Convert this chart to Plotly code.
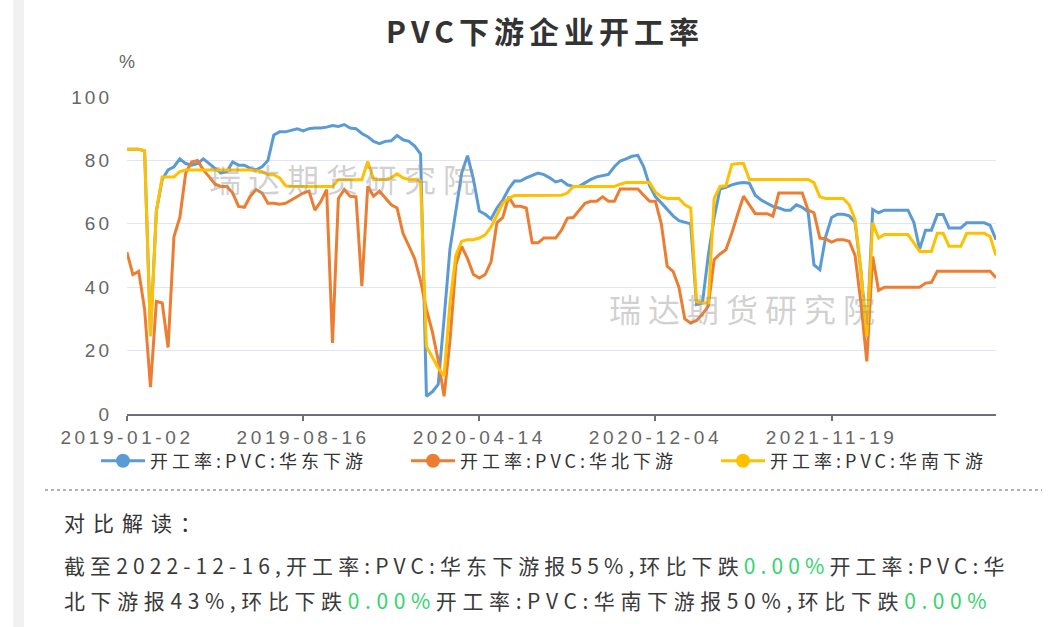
import numpy as np
import pandas as pd
import plotly.graph_objects as go

# ---------------- data ----------------
tick_dates = ["2019-01-02", "2019-08-16", "2020-04-14", "2020-12-04", "2021-11-19"]
last_date = "2022-12-16"
anchor_idx = [0, 30, 60, 90, 120, 148]

east = [83.5, 83.5, 83.5, 83, 25, 64, 74, 77, 78, 80.5,
        79, 78.5, 79, 80.5, 79, 77.5, 76, 76.5, 79.5, 78.5,
        78.5, 77.5, 77, 78, 80, 88, 89, 89, 89.5, 90,
        89.3, 90, 90.2, 90.2, 90.5, 91, 90.7, 91.3, 90.2, 90,
        88.5, 87.5, 86, 85.3, 86, 86.2, 87.9, 86.5, 86, 84.5,
        82, 5.6, 7, 9.3, 30, 52, 64, 76, 81.5, 74,
        64, 63, 61.5, 65, 67.5, 71, 73.5, 73.5, 74.5, 75.2,
        76, 75.5, 74.5, 73.2, 73.7, 72.3, 71.8, 71.8, 73, 74,
        74.8, 75.2, 75.6, 78, 79.8, 80.5, 81.3, 81.6, 78, 72,
        68.5, 66.6, 64.5, 62.5, 61, 60.5, 60, 34.5, 35, 50,
        62, 71, 71.5, 72.3, 72.8, 73, 72.8, 69, 67.5, 66.5,
        65.5, 65, 64.3, 64.3, 66, 65.2, 63.8, 47, 45.5, 56,
        62, 63, 63, 62.5, 60.5, 45, 24.5, 64.5, 63.5, 64.3,
        64.3, 64.3, 64.3, 64.3, 60.5, 52, 58, 58, 62.9, 62.9,
        58.7, 58.7, 58.7, 60.3, 60.3, 60.3, 60.3, 59.5, 55]

north = [51, 44, 45, 33, 8.5, 35.5, 35, 21, 56, 62,
         76, 79.5, 80, 77, 74.8, 72.5, 71.8, 71.8, 69.7, 65.5,
         65.2, 68.7, 70.8, 69.7, 66.5, 66.5, 66.2, 66.5, 67.5, 68.5,
         69.7, 70.3, 64.3, 67, 70.8, 22.4, 68, 70.8, 68.7, 68.5,
         40.3, 71.8, 68.7, 70.3, 68, 66, 65, 57, 53, 49,
         42, 33, 26, 17, 5.6, 23, 47, 52.9, 49, 44,
         42.9, 44, 48, 60.3, 62, 68.5, 65.5, 65.5, 65, 54,
         54, 55.5, 55.5, 55.5, 58, 61.8, 62, 64.3, 66.5, 67.1,
         67.1, 68.5, 67.1, 67.1, 71, 71, 71, 71, 69, 67.1,
         67.1, 60, 46.6, 45, 40, 30, 28.7, 29.5, 31.5, 34,
         48.7, 50.5, 51.8, 57, 63, 68.7, 66, 63.2, 63.2, 63.2,
         62.4, 69.7, 69.7, 69.7, 69.7, 69.7, 64.3, 63.5, 55.5, 55.2,
         54.2, 55, 55, 54.5, 50, 35, 16.6, 49.7, 39, 40,
         40, 40, 40, 40, 40, 40, 41.3, 41.5, 45, 45,
         45, 45, 45, 45, 45, 45, 45, 45, 43]

south = [83.5, 83.5, 83.5, 83, 24.5, 64, 74.8, 74.8, 74.8, 76.5,
         77, 77, 77, 77, 77, 77, 77, 77, 77, 77,
         77, 77, 76.7, 76.5, 75.5, 75.5, 74.5, 72, 71.8, 71.8,
         71.8, 71.8, 71.8, 71.8, 71.8, 71.8, 73.9, 73.9, 73.9, 73.9,
         73.9, 79.7, 74, 74, 74, 74.5, 75.8, 74.5, 74, 74,
         73.5, 21.3, 18, 14.5, 12, 35, 50, 54.5, 55, 55,
         55.5, 56.5, 59, 63, 66.5, 68, 68.9, 68.9, 68.9, 68.9,
         68.9, 68.9, 68.9, 68.9, 69, 69.7, 71.8, 71.8, 71.8, 71.8,
         71.8, 71.8, 71.8, 71.8, 72.5, 73, 73, 73, 73, 73,
         70, 68.5, 68, 68, 68, 66, 65, 35.5, 35, 35,
         68, 71.8, 72, 78.7, 79, 79, 74, 74, 74, 74,
         74, 74, 74, 74, 74, 74, 74, 73, 68.5, 68,
         68, 68, 68, 66, 61.3, 45, 24.5, 60.3, 55.5, 56.6,
         56.6, 56.6, 56.6, 56.6, 54, 51.3, 51.3, 51.3, 57, 57,
         52.9, 52.9, 52.9, 57, 57, 57, 57, 56, 50]

names = ["开工率:PVC:华东下游", "开工率:PVC:华北下游", "开工率:PVC:华南下游"]
colors = ["#5B9BD5", "#ED7D31", "#FFC000"]
yticks = [0, 20, 40, 60, 80, 100]

# category labels (dates), spread between the labelled anchor dates
anchors = [pd.Timestamp(d) for d in tick_dates + [last_date]]
dates = []
for k in range(len(anchors) - 1):
    n = anchor_idx[k + 1] - anchor_idx[k]
    seg = pd.to_datetime(np.linspace(anchors[k].value, anchors[k + 1].value, n + 1)).normalize()
    dates.extend(seg[:-1] if k < len(anchors) - 2 else seg)
dates = [d.strftime("%Y-%m-%d") for d in dates]

# ---------------- layout helpers ----------------
W, H = 1051, 627
L, R, T, B = 127, 996, 97, 414


def px(x):
    return (x - L) / (R - L)


def py(y):
    return (B - y) / (B - T)


def sp(text, s):
    return f"<span style='letter-spacing:{s}px'>{text}</span>"


CJK = "Noto Sans CJK SC"
NUM = "Liberation Sans"
fig = go.Figure()
for name, vals, c in zip(names, [east, north, south], colors):
    fig.add_trace(go.Scatter(x=dates, y=vals, mode="lines", name=name,
                             line=dict(color=c, width=3), showlegend=False))
for name, c in zip(names, colors):
    fig.add_trace(go.Scatter(x=[None], y=[None], mode="lines+markers", name=sp(name, 4),
                             line=dict(color=c, width=3), marker=dict(color=c, size=14)))

ann = []
ann.append(dict(text="<b>" + sp("PVC下游企业开工率", 5) + "</b>", x=px(545), y=py(30),
                xref="paper", yref="paper", showarrow=False, xanchor="center", yanchor="middle",
                font=dict(family=CJK, size=30, color="#333333")))
ann.append(dict(text="%", x=px(127), y=py(62), xref="paper", yref="paper", showarrow=False,
                xanchor="center", yanchor="middle", font=dict(family=NUM, size=18, color="#666666")))
for cx, cy in [(345, 178), (745, 308)]:
    ann.append(dict(text=sp("瑞达期货研究院", 7), x=px(cx), y=py(cy), xref="paper", yref="paper",
                    showarrow=False, xanchor="center", yanchor="middle",
                    font=dict(family=CJK, size=32, color="rgba(150,150,150,0.45)")))
ann.append(dict(text=sp("对比解读：", 8), x=px(62), y=py(522), xref="paper", yref="paper",
                showarrow=False, xanchor="left", yanchor="middle",
                font=dict(family=CJK, size=21, color="#333333")))
g = lambda t: f"<span style='color:#35d46c'>{t}</span>"
line1 = (f"截至{last_date},开工率:PVC:华东下游报{east[-1]:.0f}%,环比下跌" + g("0.00%")
         + "开工率:PVC:华")
line2 = (f"北下游报{north[-1]:.0f}%,环比下跌" + g("0.00%") + f"开工率:PVC:华南下游报{south[-1]:.0f}%,环比下跌"
         + g("0.00%"))
for t, yy, s in [(line1, 565, 5.1), (line2, 600, 5.6)]:
    ann.append(dict(text=sp(t, s), x=px(62), y=py(yy), xref="paper", yref="paper",
                    showarrow=False, xanchor="left", yanchor="middle",
                    font=dict(family=CJK, size=21, color="#3a3a3a")))

shapes = [
    dict(type="line", xref="paper", yref="paper", x0=px(45), x1=px(1042), y0=py(490), y1=py(490),
         line=dict(color="#9a9a9a", width=1.5, dash="dot")),
    dict(type="rect", xref="paper", yref="paper", x0=px(13), x1=px(24), y0=py(627), y1=py(0),
         fillcolor="#f1f1f1", line=dict(width=0), layer="below"),
]

fig.update_layout(
    width=W, height=H,
    margin=dict(l=L, r=W - R, t=T, b=H - B, pad=0),
    paper_bgcolor="white", plot_bgcolor="white",
    font=dict(family=CJK, color="#666666"),
    annotations=ann, shapes=shapes,
    legend=dict(orientation="h", x=px(96), y=py(461), xanchor="left", yanchor="middle",
                entrywidth=251, entrywidthmode="pixels", itemwidth=44,
                font=dict(family=CJK, size=18, color="#333333"), bgcolor="rgba(0,0,0,0)"),
    xaxis=dict(type="category", range=[0, len(dates) - 1], showgrid=False,
               tickmode="array", tickvals=[dates[i] for i in anchor_idx[:5]],
               ticktext=[sp(d, 3.6) for d in tick_dates],
               ticks="outside", ticklen=5, tickcolor="#6E7079", tickwidth=1.5,
               showline=True, linecolor="#6E7079", linewidth=1.5,
               tickfont=dict(family=NUM, size=19, color="#666666"), zeroline=False),
    yaxis=dict(range=[0, 100], tickmode="array", tickvals=yticks,
               ticktext=[sp(str(v), 3) for v in yticks],
               showgrid=True, gridcolor="#E0E6F1", gridwidth=1.2, zeroline=False,
               showline=False, ticks="", ticklabelstandoff=14,
               tickfont=dict(family=NUM, size=19, color="#666666")),
)

fig.write_html("out.html", config={"displayModeBar": False},
               post_script="document.body.style.margin='0';document.body.style.overflow='hidden';")
